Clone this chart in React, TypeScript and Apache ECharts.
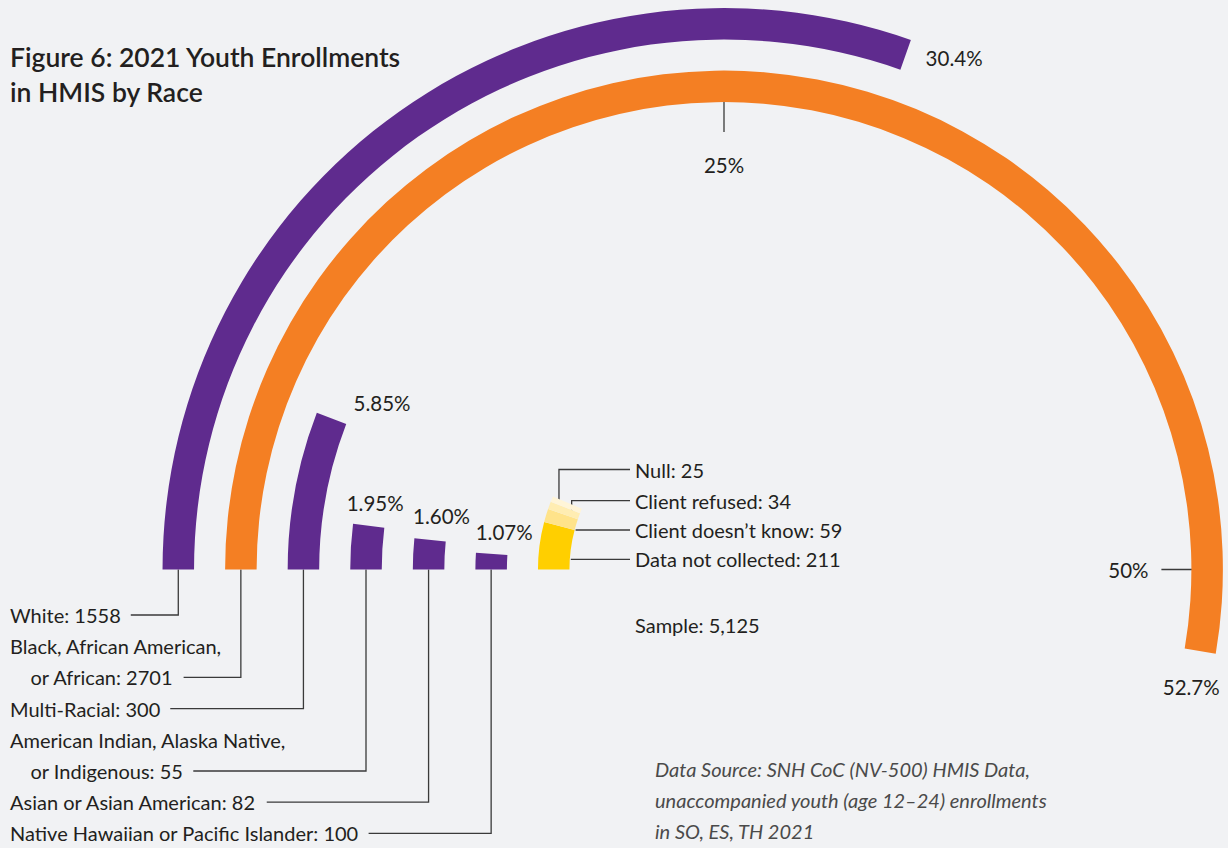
import React, { useEffect, useRef } from 'react';
import * as echarts from 'echarts';

// ---------- data ----------
// rings, inner → outer
const ringCategories = [
  'Unknown',
  'Native Hawaiian or Pacific Islander',
  'Asian or Asian American',
  'American Indian, Alaska Native, or Indigenous',
  'Multi-Racial',
  'Black, African American, or African',
  'White',
];
const ringShares = [0, 1.07, 1.6, 1.95, 5.85, 52.7, 30.4];
const ringShareLabels = ['', '1.07%', '1.60%', '1.95%', '5.85%', '52.7%', '30.4%'];
const ringColors = ['#FFD100', '#5F2B8E', '#5F2B8E', '#5F2B8E', '#5F2B8E', '#F47F23', '#5F2B8E'];

// stacked pieces of the innermost ring (from the start angle outward)
const unknownNames = ['Data not collected', 'Client doesn\u2019t know', 'Client refused', 'Null'];
const unknownCounts = [211, 59, 34, 25];
const unknownShares = [4.12, 1.15, 0.66, 0.49];
const unknownColors = ['#FFCF00', '#FFE38A', '#FFEDB2', '#FFF5D8'];

// left-hand race labels (ring index, text lines)
const raceRing = [6, 5, 4, 3, 2, 1];
const raceLabelLines = [
  ['White: 1558'],
  ['Black, African American,', 'or African: 2701'],
  ['Multi-Racial: 300'],
  ['American Indian, Alaska Native,', 'or Indigenous: 55'],
  ['Asian or Asian American: 82'],
  ['Native Hawaiian or Pacific Islander: 100'],
];

const angleTicks = [25, 50];
const angleTickLabels = ['25%', '50%'];
const sampleSize = '5,125';

const titleLines = ['Figure 6: 2021 Youth Enrollments', 'in HMIS by Race'];
const sourceLines = [
  'Data Source: SNH CoC (NV-500) HMIS Data,',
  'unaccompanied youth (age 12\u201324) enrollments',
  'in SO, ES, TH 2021',
];

// ---------- layout ----------
const W = 1228;
const H = 848;
const CX = 724;
const CY = 569.5;
const R0 = 139;
const R1 = 577;
const BAND = (R1 - R0) / ringCategories.length;
const BAR_W = 31.5;
const FONT = 'Lato, "Noto Sans", sans-serif';
const TXT = '#231F20';
const LINE = '#3A3A3A';
const FS = 20;
const PCT_FS = 20.5;

// percent-label offsets relative to the bar end (mid radius), per ring
const pctOffsets: Record<number, [number, number, string]> = {
  1: [-16, -22, 'left'],
  2: [-17, -24, 'left'],
  3: [-22, -23, 'left'],
  4: [22, -15, 'left'],
  5: [-9, 36, 'center'],
  6: [20, 3, 'left'],
};

const ringMid = (i: number) => R0 + (i + 0.5) * BAND;
const pt = (share: number, r: number): [number, number] => {
  const a = (share * 3.6 * Math.PI) / 180;
  return [CX - r * Math.cos(a), CY - r * Math.sin(a)];
};

let measureCtx: CanvasRenderingContext2D | null = null;
const textWidth = (t: string, size = FS) => {
  if (!measureCtx) measureCtx = document.createElement('canvas').getContext('2d');
  measureCtx!.font = `${size}px ${FONT}`;
  return measureCtx!.measureText(t).width;
};

const txt = (text: string, x: number, y: number, extra: any = {}) => ({
  type: 'text',
  x,
  y,
  silent: true,
  style: {
    text,
    fill: TXT,
    fontFamily: FONT,
    fontSize: FS,
    align: 'left',
    textAlign: 'left',
    verticalAlign: 'middle',
    textVerticalAlign: 'middle',
    ...extra,
  },
});

const line = (points: [number, number][]) => ({
  type: 'polyline',
  silent: true,
  shape: { points },
  style: { stroke: LINE, lineWidth: 1.3, fill: null },
});

export default function App() {
  const ref = useRef<HTMLDivElement>(null);

  useEffect(() => {
    if (!ref.current) return;
    const chart = echarts.init(ref.current, undefined, { renderer: 'svg' });

    const graphics: any[] = [];

    // title
    graphics.push(txt(titleLines[0], 10, 56.5, { fontSize: 26.5, fontWeight: 600 }));
    graphics.push(txt(titleLines[1], 10, 91.5, { fontSize: 26.5, fontWeight: 600 }));

    // left labels with leaders
    let row = 0;
    const ROW0 = 615;
    const ROWH = 31.2;
    raceLabelLines.forEach((lines, k) => {
      lines.forEach((l, j) => {
        const y = ROW0 + row * ROWH;
        const x = j === 0 ? 10 : 30.5;
        graphics.push(txt(l, x, y));
        if (j === lines.length - 1) {
          const lx = CX - ringMid(raceRing[k]);
          const sx = x + textWidth(l) + 10;
          graphics.push(line([[sx, y], [lx, y], [lx, CY]]));
        }
        row++;
      });
    });

    // percent labels on bar ends
    ringShares.forEach((s, i) => {
      if (!ringShareLabels[i]) return;
      const [x, y] = pt(s, ringMid(i));
      const [dx, dy, al] = pctOffsets[i];
      graphics.push(
        txt(ringShareLabels[i], x + dx, y + dy, { align: al, textAlign: al, fontSize: PCT_FS })
      );
    });

    // angle ticks on the orange ring
    angleTicks.forEach((v, k) => {
      const rIn = ringMid(5) - BAR_W / 2;
      const a = pt(v, rIn + 4);
      const b = pt(v, rIn - 30);
      graphics.push(line([a, b]));
      const c = pt(v, rIn - 63);
      graphics.push(
        txt(angleTickLabels[k], c[0], c[1], { align: 'center', textAlign: 'center', fontSize: PCT_FS })
      );
    });

    // unknown labels with leaders
    const RX = 635;
    const rows = [559.3, 530, 500.7, 469.5];
    let cum = 0;
    const rInY = ringMid(0) - BAR_W / 2;
    unknownNames.forEach((n, k) => {
      const y = rows[k];
      graphics.push(txt(`${n}: ${unknownCounts[k]}`, RX, y));
      const mid = cum + unknownShares[k] / 2;
      cum += unknownShares[k];
      if (k < 2) {
        const sx = CX - Math.sqrt(rInY * rInY - (CY - y) * (CY - y));
        graphics.push(line([[sx + 1, y], [RX - 5, y]]));
      } else {
        const r = k === 3 ? ringMid(0) + 8 : ringMid(0) - 8;
        const p = pt(mid, r);
        graphics.push(line([p, [p[0], y], [RX - 5, y]]));
      }
    });

    graphics.push(txt(`Sample: ${sampleSize}`, RX, 625));

    sourceLines.forEach((l, i) => {
      graphics.push(
        txt(l, 655, 768.5 + i * 31, { fontStyle: 'italic', fill: '#4A4A4A', fontSize: 20 })
      );
    });

    const series: any[] = [
      {
        type: 'bar',
        coordinateSystem: 'polar',
        stack: 'ring',
        barWidth: BAR_W,
        silent: true,
        data: ringShares.map((v, i) => ({ value: v, itemStyle: { color: ringColors[i] } })),
      },
      ...unknownShares.map((s, k) => ({
        type: 'bar',
        coordinateSystem: 'polar',
        stack: 'ring',
        barWidth: BAR_W,
        silent: true,
        name: unknownNames[k],
        itemStyle: { color: unknownColors[k] },
        data: ringCategories.map((_, i) => (i === 0 ? s : 0)),
      })),
    ];

    chart.setOption({
      animation: false,
      backgroundColor: '#F1F2F4',
      polar: { center: [CX, CY], radius: [R0, R1] },
      angleAxis: {
        type: 'value',
        min: 0,
        max: 100,
        startAngle: 180,
        clockwise: true,
        show: false,
      },
      radiusAxis: { type: 'category', data: ringCategories, show: false },
      series,
      graphic: { elements: graphics },
    });

    return () => chart.dispose();
  }, []);

  return (
    <div
      ref={ref}
      style={{ position: 'fixed', left: 0, top: 0, width: W, height: H, background: '#F1F2F4' }}
    />
  );
}
